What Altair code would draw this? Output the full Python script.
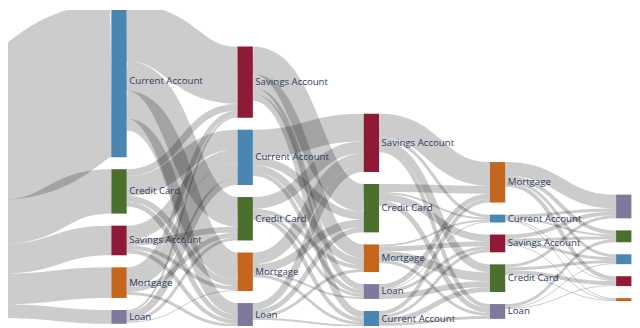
import altair as alt
import pandas as pd

# ---------------- data ----------------
PRODUCTS = ["Current Account", "Credit Card", "Savings Account", "Mortgage", "Loan"]
PRODUCT_COLORS = ["#4a86b2", "#4b6f2c", "#8e1a36", "#c4661d", "#7d7a9e"]
SOURCE_NAME = "Customers"

# top-to-bottom order of the products in each step column
STEP_ORDER = [
    ["Current Account", "Credit Card", "Savings Account", "Mortgage", "Loan"],
    ["Savings Account", "Current Account", "Credit Card", "Mortgage", "Loan"],
    ["Savings Account", "Credit Card", "Mortgage", "Loan", "Current Account"],
    ["Mortgage", "Current Account", "Savings Account", "Credit Card", "Loan"],
    ["Loan", "Credit Card", "Current Account", "Savings Account", "Mortgage"],
]

# customers -> first product (order of PRODUCTS)
FIRST_PRODUCT = [155, 45, 30, 31, 14]

# rows: product at step k, columns: product at step k+1 (order of PRODUCTS)
FLOW_1_2 = [
    [0, 30, 58, 28, 12],
    [20, 0, 7, 6, 5],
    [14, 6, 0, 4, 4],
    [15, 5, 5, 0, 3],
    [7, 3, 2, 1, 0],
]
FLOW_2_3 = [
    [0, 8, 28, 7, 4],
    [4, 0, 12, 4, 3],
    [7, 28, 0, 14, 6],
    [3, 8, 12, 0, 2],
    [2, 5, 7, 3, 0],
]
FLOW_3_4 = [
    [0, 5, 3, 4, 3],
    [2, 0, 7, 8, 5],
    [3, 8, 0, 24, 4],
    [2, 9, 5, 0, 3],
    [1, 6, 3, 5, 0],
]
FLOW_4_5 = [
    [0, 2, 1, 1, 3],
    [3, 0, 4, 1, 3],
    [3, 3, 0, 1, 4],
    [3, 4, 4, 0, 14],
    [1, 3, 1, 0, 0],
]

# ---------------- layout parameters ----------------
NODE_WIDTH = 15.5
COLUMN_X0 = -15.1
COLUMN_STEP = 127.8
COLUMN_TOP = [45, 2, 45, 113, 162, 195]
NODE_PAD = 12.2
SAMPLES = 48

# ---------------- sankey layout ----------------
links = []
for i, p in enumerate(PRODUCTS):
    links.append({"s": (0, SOURCE_NAME), "t": (1, p), "v": FIRST_PRODUCT[i]})
for step, M in enumerate([FLOW_1_2, FLOW_2_3, FLOW_3_4, FLOW_4_5], start=1):
    for i, p in enumerate(PRODUCTS):
        for j, q in enumerate(PRODUCTS):
            if M[i][j] > 0:
                links.append({"s": (step, p), "t": (step + 1, q), "v": M[i][j]})

columns = [[SOURCE_NAME]] + STEP_ORDER
nodes = {}
for c, order in enumerate(columns):
    for name in order:
        nodes[(c, name)] = {"col": c, "name": name, "out": [], "in": []}
for lk in links:
    nodes[lk["s"]]["out"].append(lk)
    nodes[lk["t"]]["in"].append(lk)

for c, order in enumerate(columns):
    y = COLUMN_TOP[c]
    x0 = COLUMN_X0 + c * COLUMN_STEP
    for name in order:
        nd = nodes[(c, name)]
        v = max(sum(l["v"] for l in nd["in"]), sum(l["v"] for l in nd["out"]))
        nd.update(value=v, y0=y, y1=y + v, x0=x0, x1=x0 + NODE_WIDTH)
        y = y + v + NODE_PAD

for nd in nodes.values():
    yy = nd["y0"]
    for lk in sorted(nd["out"], key=lambda l: nodes[l["t"]]["y0"]):
        lk["sy"] = yy + lk["v"] / 2
        yy += lk["v"]
    yy = nd["y0"]
    for lk in sorted(nd["in"], key=lambda l: nodes[l["s"]]["y0"]):
        lk["ty"] = yy + lk["v"] / 2
        yy += lk["v"]

rows = []
for k, lk in enumerate(links):
    xs = nodes[lk["s"]]["x1"]
    xt = nodes[lk["t"]]["x0"]
    xm = (xs + xt) / 2
    for i in range(SAMPLES + 1):
        t = i / SAMPLES
        a, b, c2, d = (1 - t) ** 3, 3 * (1 - t) ** 2 * t, 3 * (1 - t) * t ** 2, t ** 3
        rows.append({
            "link": k, "i": i,
            "x": a * xs + (b + c2) * xm + d * xt,
            "y": (a + b) * lk["sy"] + (c2 + d) * lk["ty"],
            "w": lk["v"],
        })
link_df = pd.DataFrame(rows)

node_df = pd.DataFrame([
    {"name": nd["name"], "col": nd["col"], "x0": nd["x0"], "x1": nd["x1"],
     "y0": nd["y0"], "y1": nd["y1"], "ym": (nd["y0"] + nd["y1"]) / 2}
    for nd in nodes.values()
])
label_df = node_df[(node_df["col"] >= 1) & (node_df["col"] <= 4)]

# ---------------- chart ----------------
xscale = alt.Scale(domain=[8, 640], nice=False, zero=False)
yscale = alt.Scale(domain=[8, 328], nice=False, zero=False, reverse=True)

link_layer = alt.Chart(link_df).mark_line(
    color="#000", strokeOpacity=0.2, strokeCap="butt", clip=True
).encode(
    x=alt.X("x:Q", scale=xscale, axis=None),
    y=alt.Y("y:Q", scale=yscale, axis=None),
    detail="link:N",
    order="i:Q",
    size=alt.Size("w:Q", scale=None, legend=None),
)

node_layer = alt.Chart(node_df).mark_rect(clip=True).encode(
    x=alt.X("x0:Q", scale=xscale, axis=None),
    x2="x1:Q",
    y=alt.Y("y0:Q", scale=yscale, axis=None),
    y2="y1:Q",
    color=alt.Color("name:N", scale=alt.Scale(domain=PRODUCTS + [SOURCE_NAME],
                                              range=PRODUCT_COLORS + ["#999999"]),
                    legend=None),
)

label_layer = alt.Chart(label_df).mark_text(
    align="left", baseline="middle", dx=2.5, fontSize=9.8,
    font="Open Sans", color="#2e3c5e", clip=True
).encode(
    x=alt.X("x1:Q", scale=xscale, axis=None),
    y=alt.Y("ym:Q", scale=yscale, axis=None),
    text="name:N",
)

chart = alt.layer(link_layer, node_layer, label_layer).properties(
    width=632, height=320, padding=0,
    autosize=alt.AutoSizeParams(type="none"),
).configure_view(stroke=None)

chart.save("out.html", embed_options={"renderer": "svg", "actions": False})
